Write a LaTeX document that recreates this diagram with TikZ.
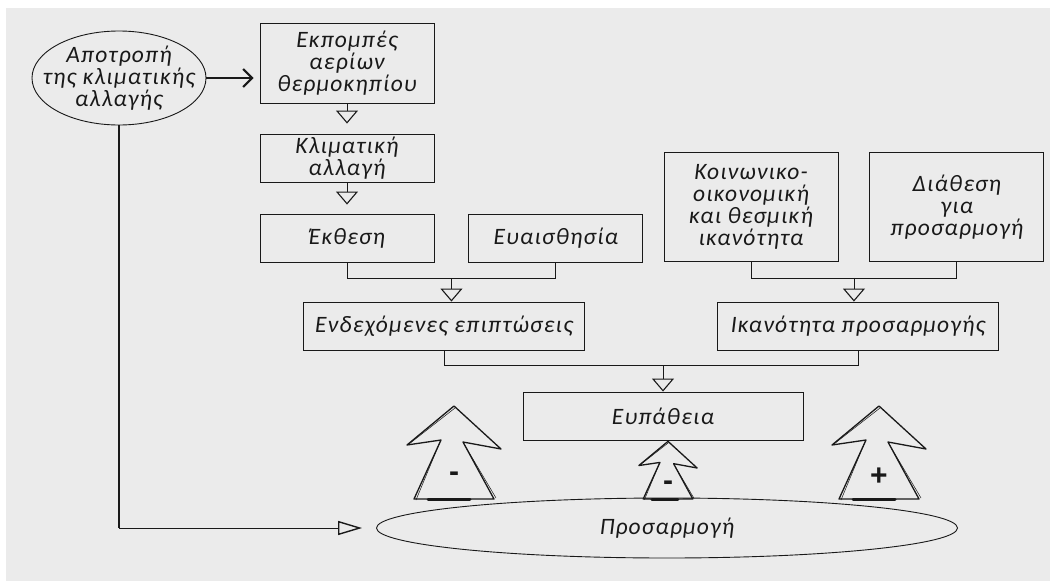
\documentclass[tikz,border=0pt]{standalone}
\usepackage{fontspec}
\newfontfamily\lblfont{Carlito}[LetterSpace=5]
\newfontfamily\signfont{Liberation Sans}
\usetikzlibrary{arrows.meta,shapes.geometric,positioning,calc}

\definecolor{paper}{RGB}{235,235,235}
\definecolor{ink}{RGB}{25,25,25}

\tikzset{
  txt/.style={align=center,text=ink,font={\lblfont\itshape\fontsize{23.5}{22}\selectfont}},
  box/.style={txt,draw=ink,line width=0.9pt,minimum width=174pt,minimum height=48pt,inner sep=1pt},
  oval/.style={txt,draw=ink,ellipse,line width=0.9pt,inner sep=0pt},
  tri/.style={draw=ink,line width=0.9pt,-{Triangle[open,length=13pt,width=22pt,line width=1.1pt]}},
  barb/.style={draw=ink,line width=1.6pt,-{Straight Barb[length=9pt,width=18pt,line width=2pt]}},
  uparrow/.pic={
    \draw[ink,line width=1.3pt,line join=round] (0,-93) -- (-47,-54) -- (-13,-59) -- (-40,0) -- (40,0) -- (9,-57) -- (47,-50) -- cycle;
    \draw[ink,line width=0.5pt] (1,-91) -- (-45,-55) (-14,-57) -- (-38,1) (10,-55) -- (42,-1);
    \draw[ink,line width=3pt,line cap=round] (-26,0) -- (16,0);
  }
}

\begin{document}
\begin{tikzpicture}[x=1pt,y=-1pt]
\useasboundingbox (0,0) rectangle (1050,581);
\fill[paper] (6,8) rectangle (1050,581);

% causes
\node[oval,minimum width=174pt,minimum height=94pt] (prev) at (119,78) {};
\node[txt] (prevtxt) at (prev) {Αποτροπή\\της κλιματικής\\αλλαγής};
\node[box,minimum height=80pt] (emis) at (347,63) {Εκπομπές\\αερίων\\θερμοκηπίου};
\node[box] (clim) at (347,158) {Κλιματική\\αλλαγή};
\node[box] (expo) at (347,238) {Έκθεση};
\node[box,right=34pt of expo] (sens) {Ευαισθησία};
\node[box,minimum width=281pt] (impact) at (444,326) {Ενδεχόμενες επιπτώσεις};

% capacity side
\node[box,minimum height=109pt] (socio) at (751,207) {Κοινωνικο-\\οικονομική\\και θεσμική\\ικανότητα};
\node[box,minimum height=109pt,right=31pt of socio] (dispo) {Διάθεση\\για\\προσαρμογή};
\node[box,minimum width=281pt] (capac) at (858,326) {Ικανότητα προσαρμογής};

\node[box,minimum width=280pt] (vuln) at (663,416) {Ευπάθεια};
\node[oval,minimum width=581pt,minimum height=60pt] (adapt) at (667,528) {Προσαρμογή};

% links
\draw[barb,shorten >=6pt] (prev.east) -- (prev.east -| emis.west);
\draw[tri,shorten >=10pt] (emis) -- (clim);
\draw[tri,shorten >=9pt] (clim) -- (expo);

\coordinate (j1) at ($(expo.south)!0.5!(sens.south)+(0,16)$);
\coordinate (j2) at ($(socio.south)!0.5!(dispo.south)+(0,16)$);
\coordinate (j3) at ($(impact.south)!0.5!(capac.south)+(0,15)$);
\draw[ink,line width=0.9pt] (expo.south) |- (j1) -| (sens.south);
\draw[ink,line width=0.9pt] (socio.south) |- (j2) -| (dispo.south);
\draw[ink,line width=0.9pt] (impact.south) |- (j3) -| (capac.south);
\draw[tri] (j1) -- (j1 |- impact.north);
\draw[tri] (j2) -- (j2 |- capac.north);
\draw[tri] (vuln.north |- j3) -- (vuln.north);

\coordinate (corner) at (prev.south |- adapt.west);
\draw[ink,line width=1.6pt] (prev.south) -- (corner);
\draw[ink,line width=1pt,-{Triangle[open,length=24pt,width=14pt,line width=1.4pt]},shorten >=14pt] (corner) -- (adapt.west);

% feedback arrows
\foreach \bx/\sc/\sg [count=\n] in {454/1/-,668/0.62/-,879/1/+}
{
  \pic[scale=\sc] at (\bx,499) {uparrow};
  \node[text=ink,font={\signfont\bfseries\fontsize{30}{30}\selectfont}] (sign\n) at (\bx,{499-22*\sc}) {\sg};
}
\end{tikzpicture}
\end{document}
